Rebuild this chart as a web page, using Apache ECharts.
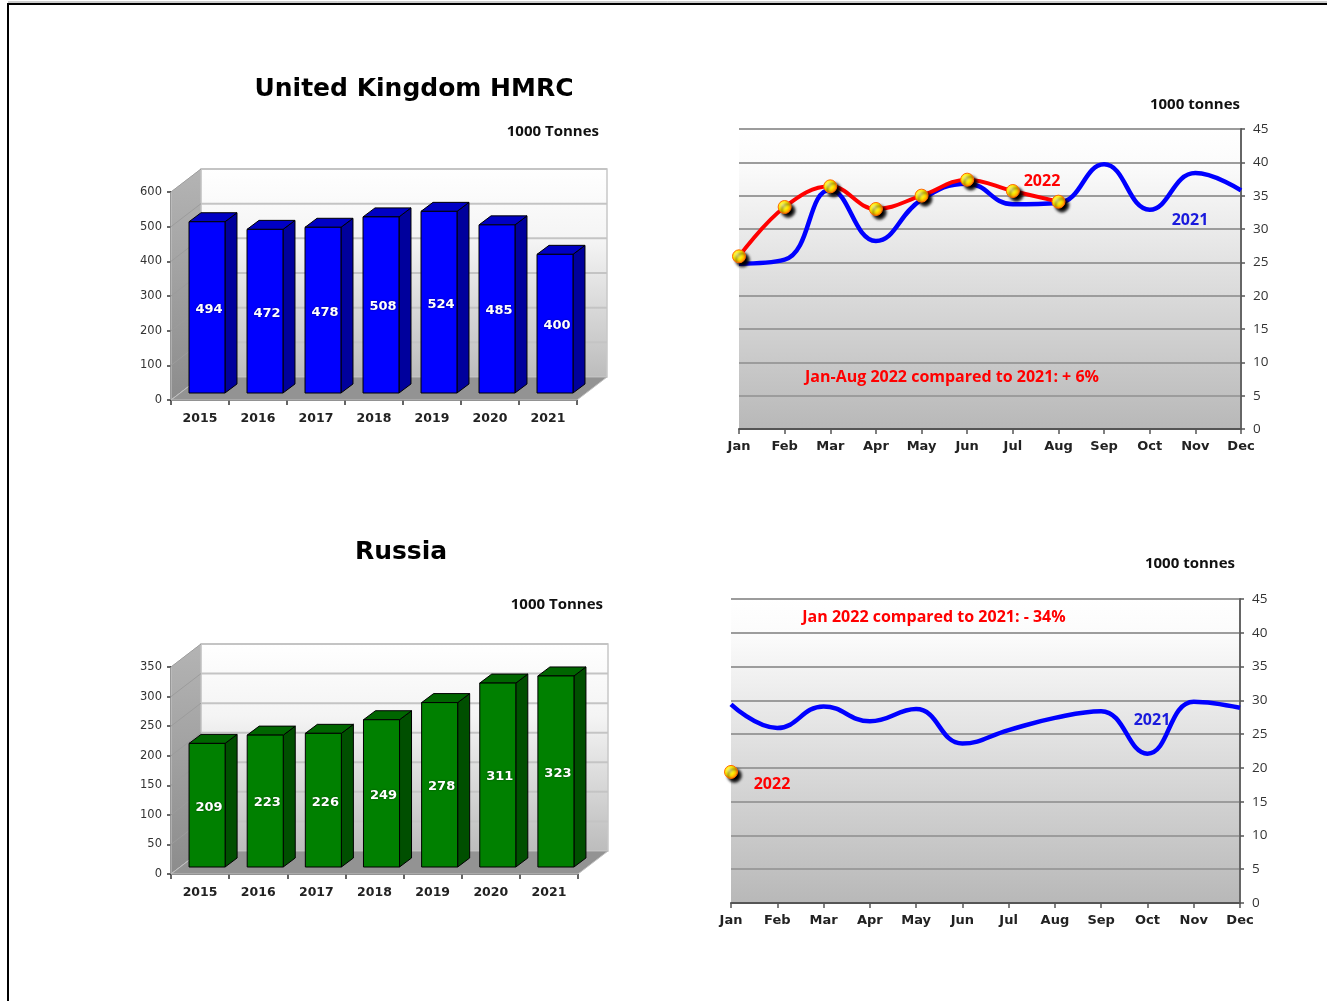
<!DOCTYPE html>
<html>
<head>
<meta charset="utf-8">
<script src="https://cdn.jsdelivr.net/npm/echarts@6/dist/echarts.min.js"></script>
<style>
  html, body { margin: 0; padding: 0; background: #ffffff; }
  #main { width: 1327px; height: 1001px; }
</style>
</head>
<body>
<div id="main"></div>
<script>
// ---- data (1000 tonnes) ----
const years = ['2015', '2016', '2017', '2018', '2019', '2020', '2021'];
const ukAnnual = [494, 472, 478, 508, 524, 485, 400];
const ruAnnual = [209, 223, 226, 249, 278, 311, 323];
const ukAnnualTicks = [0, 100, 200, 300, 400, 500, 600];
const ruAnnualTicks = [0, 50, 100, 150, 200, 250, 300, 350];

const months = ['Jan', 'Feb', 'Mar', 'Apr', 'May', 'Jun', 'Jul', 'Aug', 'Sep', 'Oct', 'Nov', 'Dec'];
const ukMonthly2021 = [24.8, 25.4, 35.9, 28.2, 34.4, 36.8, 33.7, 33.9, 39.7, 32.9, 38.4, 35.8];
const ukMonthly2022 = [25.9, 33.3, 36.4, 33.0, 35.0, 37.4, 35.7, 34.1];
const ruMonthly2021 = [29.4, 25.9, 29.1, 26.9, 28.7, 23.6, 25.6, 27.4, 28.4, 22.1, 29.8, 28.9];
const ruMonthly2022 = [19.4];

// ---- pseudo-3D geometry for the column charts (pixels) ----
const WALL_DX = 30, WALL_DY = -23;     // depth of the chart box
const BAR_SHIFT_X = 7, BAR_SHIFT_Y = -7; // bar front face sits a bit inside the box
const BAR_DX = 12, BAR_DY = -9;        // depth of each column
const BAR_WIDTH_RATIO = 0.62;

const TAHOMA = '"DejaVu Sans", Verdana, sans-serif';
const CALIBRI = '"Open Sans", Lato, sans-serif';

function wallRenderer(params, api) {
  const cs = params.coordSys;
  const xl = cs.x, xr = cs.x + cs.width, yt = cs.y, yb = cs.y + cs.height;
  const v = api.value(1);
  const y = api.coord([0, v])[1];
  const children = [];
  if (params.dataIndex === 0) {
    children.push({
      type: 'polygon',
      shape: { points: [[xl + WALL_DX, yt + WALL_DY], [xr + WALL_DX, yt + WALL_DY], [xr + WALL_DX, yb + WALL_DY], [xl + WALL_DX, yb + WALL_DY]] },
      style: {
        fill: { type: 'linear', x: 0, y: 0, x2: 0, y2: 1, colorStops: [
          { offset: 0, color: '#ffffff' }, { offset: 0.35, color: '#f4f4f4' }, { offset: 1, color: '#bcbcbc' }] },
        stroke: '#c8c8c8', lineWidth: 1.5
      }
    });
    children.push({
      type: 'polygon',
      shape: { points: [[xl, yb], [xl + WALL_DX, yb + WALL_DY], [xl + WALL_DX, yt + WALL_DY], [xl, yt]] },
      style: {
        fill: { type: 'linear', x: 0, y: 0, x2: 0, y2: 1, colorStops: [
          { offset: 0, color: '#b4b4b4' }, { offset: 1, color: '#8c8c8c' }] },
        stroke: '#c8c8c8', lineWidth: 1
      }
    });
    children.push({
      type: 'polygon',
      shape: { points: [[xl, yb], [xr, yb], [xr + WALL_DX, yb + WALL_DY], [xl + WALL_DX, yb + WALL_DY]] },
      style: { fill: '#939393', stroke: '#c0c0c0', lineWidth: 1 }
    });
  }
  if (v > 0) {
    children.push({
      type: 'line',
      shape: { x1: xl + WALL_DX, y1: y + WALL_DY, x2: xr + WALL_DX, y2: y + WALL_DY },
      style: { stroke: '#c4c4c4', lineWidth: 2 }
    });
    children.push({
      type: 'line',
      shape: { x1: xl, y1: y, x2: xl + WALL_DX, y2: y + WALL_DY },
      style: { stroke: '#9c9c9c', lineWidth: 1 }
    });
  }
  return { type: 'group', children: children };
}

function columnRenderer(faces) {
  return function (params, api) {
    const i = api.value(0), v = api.value(1);
    const base = api.coord([i, 0]);
    const top = api.coord([i, v]);
    const band = api.size([1, 0])[0];
    const w = band * BAR_WIDTH_RATIO;
    const x0 = base[0] - w / 2 + BAR_SHIFT_X, x1 = x0 + w;
    const yb = base[1] + BAR_SHIFT_Y, yt = top[1] + BAR_SHIFT_Y;
    return {
      type: 'group',
      children: [
        { type: 'polygon', shape: { points: [[x1, yb], [x1 + BAR_DX, yb + BAR_DY], [x1 + BAR_DX, yt + BAR_DY], [x1, yt]] },
          style: { fill: faces.side, stroke: '#000', lineWidth: 1 } },
        { type: 'polygon', shape: { points: [[x0, yt], [x1, yt], [x1 + BAR_DX, yt + BAR_DY], [x0 + BAR_DX, yt + BAR_DY]] },
          style: { fill: faces.top, stroke: '#000', lineWidth: 1 } },
        { type: 'rect', shape: { x: x0, y: yt, width: w, height: yb - yt },
          style: { fill: faces.front, stroke: '#000', lineWidth: 1 } },
        { type: 'text', style: { text: String(v), x: (x0 + x1) / 2 + 2, y: (yt + yb) / 2 + 2,
          fill: '#ffffff', font: 'bold 13px ' + TAHOMA, align: 'center', verticalAlign: 'middle',
          textShadowColor: 'rgba(0,0,0,0.5)', textShadowBlur: 2 } }
      ]
    };
  };
}

const markerStyle = {
  color: { type: 'radial', x: 0.4, y: 0.4, r: 0.6, colorStops: [
    { offset: 0, color: '#ffff90' }, { offset: 0.55, color: '#ffee00' }, { offset: 1, color: '#ff8800' }] },
  borderColor: '#ff6a00', borderWidth: 1,
  shadowColor: 'rgba(0,0,0,1)', shadowBlur: 3, shadowOffsetX: 3.5, shadowOffsetY: 3.5
};

const plotBg = { type: 'linear', x: 0, y: 0, x2: 0, y2: 1, colorStops: [
  { offset: 0, color: '#ffffff' }, { offset: 0.12, color: '#fbfbfb' }, { offset: 1, color: '#b8b8b8' }] };

function barAxes(gridIndex, ticks) {
  return {
    x: {
      type: 'category', gridIndex: gridIndex, data: years,
      axisLine: { lineStyle: { color: '#333', width: 1.5 } },
      axisTick: { show: true, length: 5, lineStyle: { color: '#333', width: 1.5 } },
      axisLabel: { margin: 12, color: '#222', fontFamily: TAHOMA, fontWeight: 'bold', fontSize: 12.5 },
      splitLine: { show: false }
    },
    y: {
      type: 'value', gridIndex: gridIndex, min: 0, max: ticks[ticks.length - 1], interval: ticks[1] - ticks[0],
      axisLine: { show: true, lineStyle: { color: '#333', width: 1.5 } },
      axisTick: { show: true, length: 4, lineStyle: { color: '#333', width: 1.5 } },
      axisLabel: { margin: 9, color: '#333', fontFamily: TAHOMA, fontSize: 11.5 },
      splitLine: { show: false }
    }
  };
}

function lineAxes(gridIndex) {
  return {
    x: {
      type: 'category', gridIndex: gridIndex, data: months, boundaryGap: false,
      axisLine: { lineStyle: { color: '#555', width: 2 } },
      axisTick: { show: true, length: 5, lineStyle: { color: '#555', width: 1.5 } },
      axisLabel: { margin: 11, color: '#222', fontFamily: TAHOMA, fontWeight: 'bold', fontSize: 13 },
      splitLine: { show: false }
    },
    y: {
      type: 'value', gridIndex: gridIndex, position: 'right', min: 0, max: 45, interval: 5,
      axisLine: { show: true, lineStyle: { color: '#666', width: 2 } },
      axisTick: { show: true, length: 4, lineStyle: { color: '#555', width: 1.5 } },
      axisLabel: { margin: 12, color: '#333', fontFamily: CALIBRI, fontSize: 13.5 },
      splitLine: { show: true, lineStyle: { color: '#9c9c9c', width: 2 } }
    }
  };
}

const ukBar = barAxes(0, ukAnnualTicks);
const ruBar = barAxes(1, ruAnnualTicks);
const ukLine = lineAxes(2);
const ruLine = lineAxes(3);

const option = {
  animation: false,
  backgroundColor: '#ffffff',
  title: [
    { text: 'United Kingdom HMRC', left: 409, top: 72, textAlign: 'center',
      textStyle: { fontFamily: TAHOMA, fontWeight: 'bold', fontSize: 25, color: '#000' } },
    { text: 'Russia', left: 396, top: 535, textAlign: 'center',
      textStyle: { fontFamily: TAHOMA, fontWeight: 'bold', fontSize: 25, color: '#000' } }
  ],
  grid: [
    { left: 171, top: 192, width: 406, height: 208 },
    { left: 171, top: 667, width: 407, height: 207 },
    { left: 739, top: 129, width: 502, height: 300, show: true, backgroundColor: plotBg, borderWidth: 0 },
    { left: 731, top: 599, width: 509, height: 304, show: true, backgroundColor: plotBg, borderWidth: 0 }
  ],
  xAxis: [ukBar.x, ruBar.x, ukLine.x, ruLine.x],
  yAxis: [ukBar.y, ruBar.y, ukLine.y, ruLine.y],
  series: [
    { type: 'custom', name: 'uk-box', xAxisIndex: 0, yAxisIndex: 0, z: 1, clip: false,
      renderItem: wallRenderer, data: ukAnnualTicks.map(t => [0, t]), silent: true },
    { type: 'custom', name: 'UK', xAxisIndex: 0, yAxisIndex: 0, z: 3, clip: false,
      renderItem: columnRenderer({ front: '#0000ff', side: '#00009c', top: '#0000c4' }),
      data: ukAnnual.map((v, i) => [i, v]) },
    { type: 'custom', name: 'ru-box', xAxisIndex: 1, yAxisIndex: 1, z: 1, clip: false,
      renderItem: wallRenderer, data: ruAnnualTicks.map(t => [0, t]), silent: true },
    { type: 'custom', name: 'Russia', xAxisIndex: 1, yAxisIndex: 1, z: 3, clip: false,
      renderItem: columnRenderer({ front: '#008000', side: '#004f00', top: '#006600' }),
      data: ruAnnual.map((v, i) => [i, v]) },

    { type: 'line', name: 'UK 2021', xAxisIndex: 2, yAxisIndex: 2, data: ukMonthly2021,
      smooth: 0.45, symbol: 'none', z: 3,
      lineStyle: { color: '#0000ff', width: 4.5 } },
    { type: 'line', name: 'UK 2022', xAxisIndex: 2, yAxisIndex: 2, data: ukMonthly2022,
      smooth: 0.4, symbol: 'circle', symbolSize: 13, z: 4,
      lineStyle: { color: '#ff0000', width: 4 }, itemStyle: markerStyle },

    { type: 'line', name: 'Russia 2021', xAxisIndex: 3, yAxisIndex: 3, data: ruMonthly2021,
      smooth: 0.45, symbol: 'none', z: 3,
      lineStyle: { color: '#0000ff', width: 4.5 } },
    { type: 'line', name: 'Russia 2022', xAxisIndex: 3, yAxisIndex: 3, data: ruMonthly2022,
      symbol: 'circle', symbolSize: 13, z: 4, clip: false,
      lineStyle: { color: '#ff0000', width: 4 }, itemStyle: markerStyle }
  ],
  graphic: [
    // page frame
    { type: 'line', shape: { x1: 8, y1: 2, x2: 1327, y2: 2 }, style: { stroke: '#999', lineWidth: 1 } },
    { type: 'line', shape: { x1: 7, y1: 4, x2: 1327, y2: 4 }, style: { stroke: '#000', lineWidth: 2 } },
    { type: 'line', shape: { x1: 8, y1: 3, x2: 8, y2: 1001 }, style: { stroke: '#000', lineWidth: 2 } },

    // unit captions
    { type: 'text', x: 599, y: 132, style: { text: '1000 Tonnes', align: 'right', verticalAlign: 'middle',
      font: 'bold 15px ' + CALIBRI, fill: '#111' } },
    { type: 'text', x: 603, y: 605, style: { text: '1000 Tonnes', align: 'right', verticalAlign: 'middle',
      font: 'bold 15px ' + CALIBRI, fill: '#111' } },
    { type: 'text', x: 1240, y: 105, style: { text: '1000 tonnes', align: 'right', verticalAlign: 'middle',
      font: 'bold 15px ' + CALIBRI, fill: '#111' } },
    { type: 'text', x: 1235, y: 564, style: { text: '1000 tonnes', align: 'right', verticalAlign: 'middle',
      font: 'bold 15px ' + CALIBRI, fill: '#111' } },

    // series labels and notes
    { type: 'text', x: 1042, y: 181, z: 10, style: { text: '2022', align: 'center', verticalAlign: 'middle',
      font: 'bold 16px ' + CALIBRI, fill: '#ff0000' } },
    { type: 'text', x: 1190, y: 220, z: 10, style: { text: '2021', align: 'center', verticalAlign: 'middle',
      font: 'bold 16px ' + CALIBRI, fill: '#1a1adc' } },
    { type: 'text', x: 952, y: 377, z: 10, style: { text: 'Jan-Aug 2022 compared to 2021: + 6%', align: 'center',
      verticalAlign: 'middle', font: 'bold 16px ' + CALIBRI, fill: '#ff0000' } },
    { type: 'text', x: 772, y: 784, z: 10, style: { text: '2022', align: 'center', verticalAlign: 'middle',
      font: 'bold 16px ' + CALIBRI, fill: '#ff0000' } },
    { type: 'text', x: 1152, y: 720, z: 10, style: { text: '2021', align: 'center', verticalAlign: 'middle',
      font: 'bold 16px ' + CALIBRI, fill: '#1a1adc' } },
    { type: 'text', x: 934, y: 617, z: 10, style: { text: 'Jan 2022 compared to 2021: - 34%', align: 'center',
      verticalAlign: 'middle', font: 'bold 16px ' + CALIBRI, fill: '#ff0000' } }
  ]
};

const chart = echarts.init(document.getElementById('main'), null, { renderer: 'canvas' });
chart.setOption(option);
</script>
</body>
</html>
